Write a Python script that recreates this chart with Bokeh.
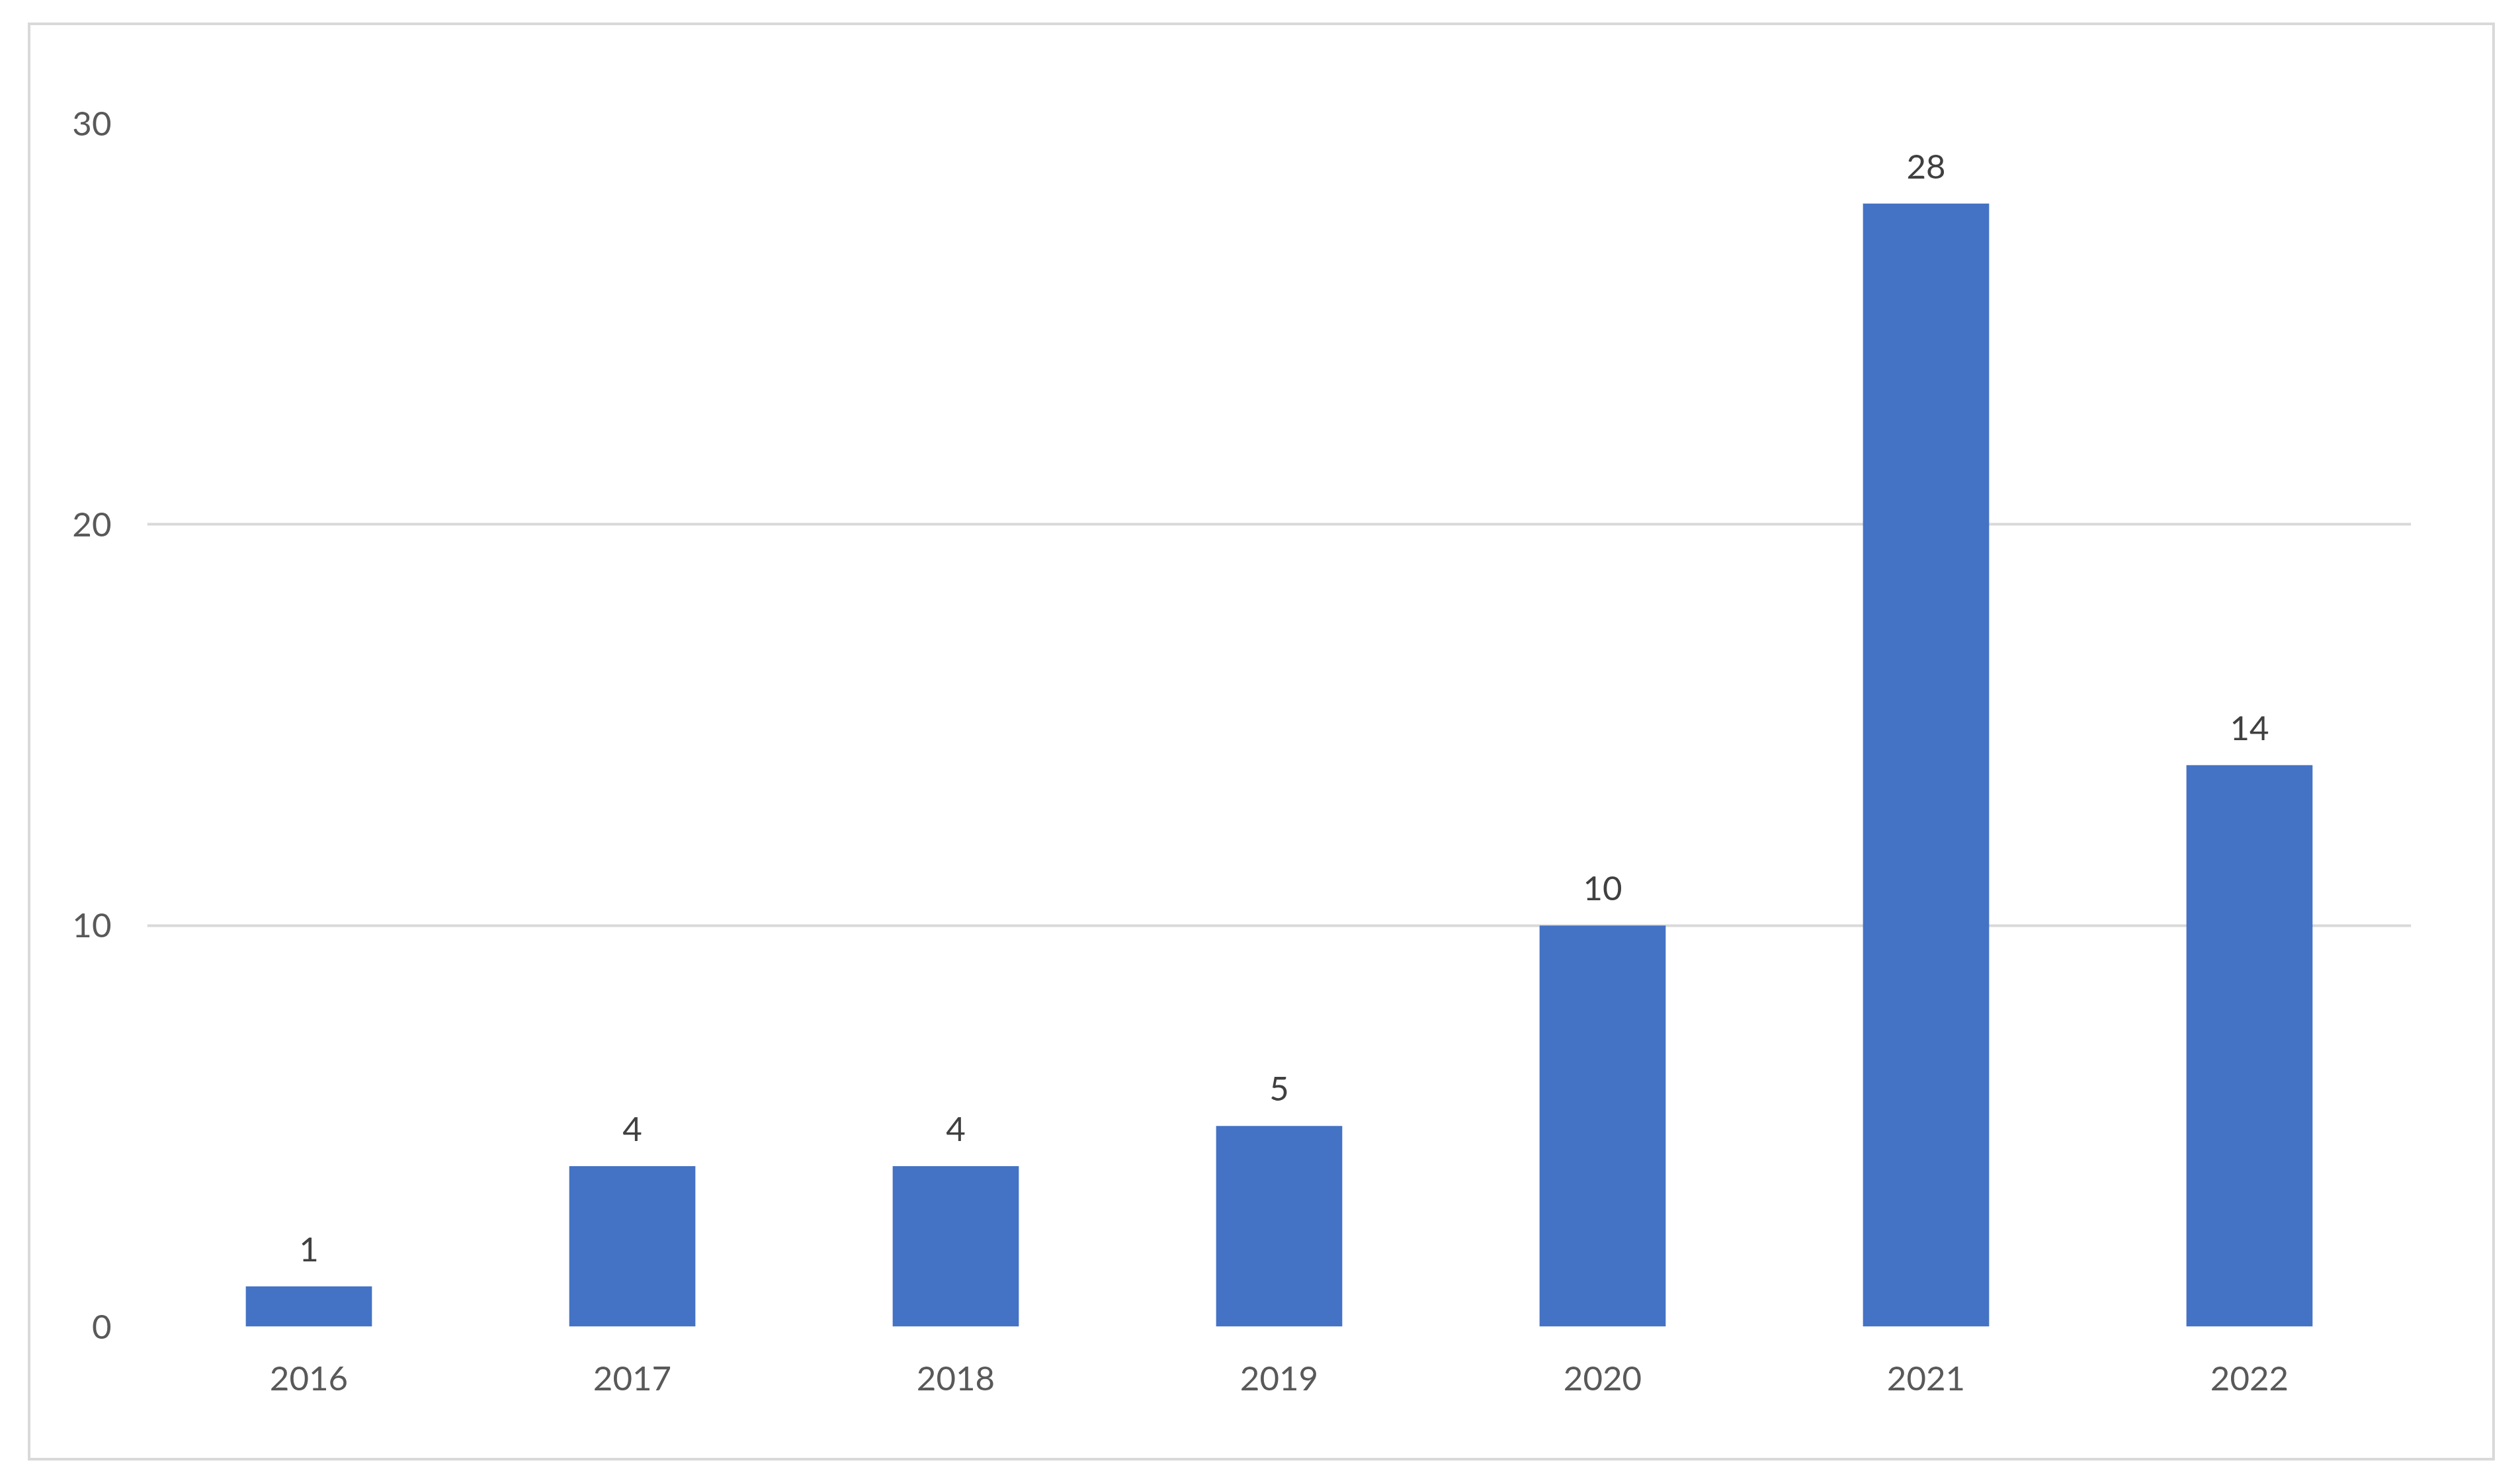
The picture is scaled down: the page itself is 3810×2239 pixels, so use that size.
from bokeh.plotting import figure
from bokeh.models import FactorRange, Range1d, FixedTicker, ColumnDataSource
from bokeh.core.properties import value
from bokeh.embed import file_html
from bokeh.resources import INLINE

years = ["2016", "2017", "2018", "2019", "2020", "2021", "2022"]
counts = [1, 4, 4, 5, 10, 28, 14]
y_ticks = [0, 10, 20, 30]

FONT = "Lato"

src = ColumnDataSource(data=dict(year=years, count=counts, label=[str(c) for c in counts]))

p = figure(
    x_range=FactorRange(*years, range_padding=0),
    y_range=Range1d(0, 30),
    width=3730, height=2174,
    output_backend="svg", toolbar_location=None,
    min_border_left=176, min_border_right=131,
    min_border_top=148, min_border_bottom=207,
)
p.margin = (34, 0, 0, 42)
p.styles = {"border": "4px solid #d9d9d9"}
p.outline_line_color = None
p.background_fill_color = "white"
p.border_fill_color = "white"

p.vbar(x="year", top="count", width=0.39, source=src, fill_color="#4472C4", line_color=None)

p.text(x="year", y="count", text="label", source=src,
       text_align="center", text_baseline="alphabetic", y_offset=-56,
       text_font=value(FONT), text_font_size="51px", text_color="#404040")

p.xgrid.grid_line_color = None
p.ygrid.ticker = FixedTicker(ticks=y_ticks)
p.ygrid.grid_line_color = "#d9d9d9"
p.ygrid.grid_line_width = 4

p.yaxis.ticker = FixedTicker(ticks=y_ticks)
p.yaxis.axis_line_color = None
p.yaxis.major_tick_line_color = None
p.yaxis.minor_tick_line_color = None
p.yaxis.major_label_text_font = FONT
p.yaxis.major_label_text_font_size = "51px"
p.yaxis.major_label_text_color = "#595959"
p.yaxis.major_label_standoff = 48

p.xaxis.axis_line_color = None
p.xaxis.major_tick_line_color = None
p.xaxis.minor_tick_line_color = None
p.xaxis.major_label_text_font = FONT
p.xaxis.major_label_text_font_size = "51px"
p.xaxis.major_label_text_color = "#595959"
p.xaxis.major_label_standoff = 54

open("out.html", "w").write(file_html(p, INLINE))
